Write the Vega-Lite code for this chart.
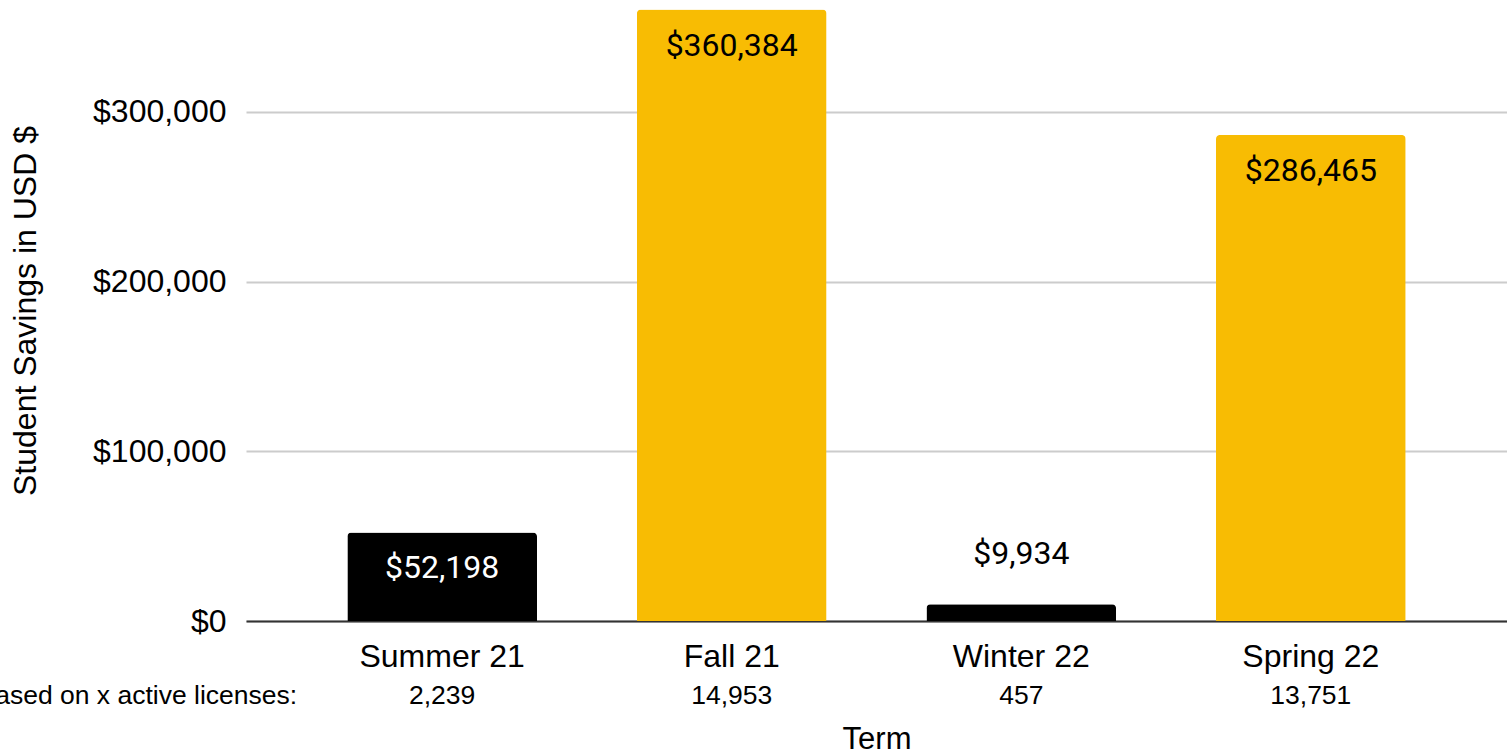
{
  "$schema": "https://vega.github.io/schema/vega-lite/v6.json",
  "width": 1261,
  "height": 621,
  "autosize": {"type": "none"},
  "padding": {"left": 246, "top": 0, "right": 0, "bottom": 133},
  "background": "white",
  "config": {"view": {"stroke": null}, "font": "Liberation Sans"},
  "data": {
    "values": [
      {"term": "Summer 21", "savings": 52198, "licenses": 2239, "session": "Summer/Winter"},
      {"term": "Fall 21", "savings": 360384, "licenses": 14953, "session": "Fall/Spring"},
      {"term": "Winter 22", "savings": 9934, "licenses": 457, "session": "Summer/Winter"},
      {"term": "Spring 22", "savings": 286465, "licenses": 13751, "session": "Fall/Spring"}
    ]
  },
  "encoding": {
    "x": {
      "field": "term",
      "type": "nominal",
      "sort": null,
      "scale": {"domain": ["Summer 21", "Fall 21", "Winter 22", "Spring 22"], "paddingInner": 0.345, "paddingOuter": 0.35},
      "axis": {
        "title": "Term",
        "titleFontSize": 31,
        "titleFontWeight": "normal",
        "titleColor": "#000",
        "titlePadding": 52,
        "labelFontSize": 32,
        "labelColor": "#000",
        "labelAngle": 0,
        "labelPadding": 20,
        "ticks": false,
        "grid": false,
        "domainColor": "#333",
        "domainWidth": 2
      }
    }
  },
  "layer": [
    {
      "mark": {"type": "bar", "cornerRadiusTopLeft": 4, "cornerRadiusTopRight": 4},
      "encoding": {
        "y": {
          "field": "savings",
          "type": "quantitative",
          "scale": {"domain": [0, 366000], "nice": false},
          "axis": {
            "title": "Student Savings in USD $",
            "titleFontSize": 32,
            "titleFontWeight": "normal",
            "titleColor": "#000",
            "titlePadding": 50,
            "values": [0, 100000, 200000, 300000],
            "format": "$,.0f",
            "labelFontSize": 32,
            "labelColor": "#000",
            "labelPadding": 20,
            "ticks": false,
            "domain": false,
            "gridColor": "#cccccc",
            "gridWidth": 2
          }
        },
        "color": {
          "field": "session",
          "type": "nominal",
          "scale": {"domain": ["Summer/Winter", "Fall/Spring"], "range": ["#000000", "#F8BC03"]},
          "legend": null
        }
      }
    },
    {
      "transform": [{"filter": "datum.savings >= 20000"}],
      "mark": {"type": "text", "font": "Roboto", "fontSize": 32, "baseline": "middle", "dy": 36},
      "encoding": {
        "y": {"field": "savings", "type": "quantitative"},
        "text": {"field": "savings", "type": "quantitative", "format": "$,.0f"},
        "color": {"condition": {"test": "datum.session === 'Summer/Winter'", "value": "white"}, "value": "black"}
      }
    },
    {
      "transform": [{"filter": "datum.savings < 20000"}],
      "mark": {"type": "text", "font": "Roboto", "fontSize": 32, "baseline": "middle", "dy": -50, "color": "black"},
      "encoding": {
        "y": {"field": "savings", "type": "quantitative"},
        "text": {"field": "savings", "type": "quantitative", "format": "$,.0f"}
      }
    },
    {
      "mark": {"type": "text", "fontSize": 26.5, "baseline": "middle", "dy": 75, "color": "black"},
      "encoding": {
        "y": {"datum": 0},
        "text": {"field": "licenses", "type": "quantitative", "format": ","}
      }
    },
    {
      "data": {"values": [{"term": "Summer 21", "note": "Based on x active licenses:"}]},
      "mark": {"type": "text", "fontSize": 26.5, "baseline": "middle", "align": "right", "dy": 75, "dx": -145, "color": "black"},
      "encoding": {
        "y": {"datum": 0},
        "text": {"field": "note", "type": "nominal"}
      }
    }
  ]
}
